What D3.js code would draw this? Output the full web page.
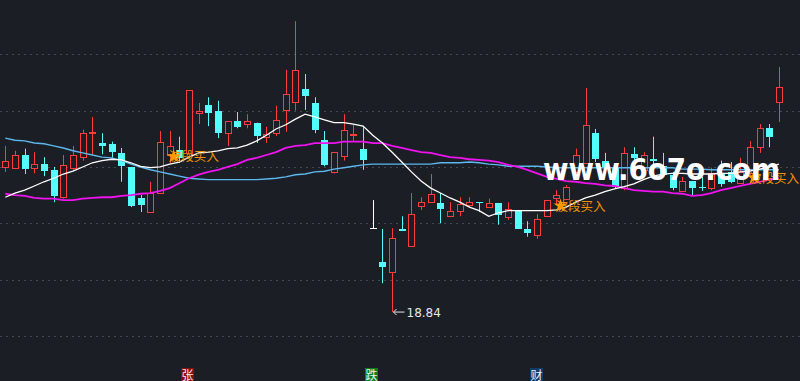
<!DOCTYPE html>
<html>
<head>
<meta charset="utf-8">
<script src="https://cdn.jsdelivr.net/npm/d3@7"></script>
<style>
  body { margin: 0; background: #1b1e25; }
  svg { display: block; }
</style>
</head>
<body>
<svg></svg>
<script>
// daily candles, left to right
const opens = [20.90,20.89,21.07,20.89,20.94,20.86,20.47,20.89,21.04,21.38,
  21.24,21.23,21.10,20.90,20.46,20.26,20.53,21.07,21.14,21.10,
  21.67,21.78,21.70,21.38,21.55,21.51,21.53,21.33,21.38,21.71,
  21.82,22.01,21.81,21.28,20.83,21.06,21.35,21.16,20.03,19.55,
  19.41,20.02,19.78,20.35,20.40,20.39,20.20,20.28,20.36,20.40,
  20.33,20.39,20.19,20.28,20.02,19.93,20.20,20.46,20.45,20.83,
  20.96,21.38,20.99,20.89,20.60,21.08,20.86,21.01,20.91,20.79,
  20.56,20.70,20.62,20.60,20.81,20.83,20.67,20.81,21.18,21.45,
  21.82];
const highs = [21.20,21.13,21.16,21.11,21.04,20.90,21.07,21.20,21.43,21.61,
  21.38,21.26,21.17,20.90,20.50,20.69,21.41,21.41,21.33,21.99,
  21.81,21.89,21.84,21.55,21.68,21.65,21.53,21.47,21.77,22.28,
  22.97,22.22,21.89,21.41,21.11,21.65,21.50,21.47,20.43,20.02,
  20.03,20.20,20.53,20.47,20.80,20.53,20.40,20.47,20.47,20.40,
  20.45,20.39,20.40,20.28,20.13,20.23,20.43,20.57,20.64,21.16,
  22.02,21.44,21.10,20.94,21.18,21.18,21.11,21.33,21.10,20.83,
  20.76,20.70,20.76,20.89,20.99,20.97,21.03,21.27,21.51,21.51,
  22.32];
const lows = [20.83,20.89,20.80,20.81,20.77,20.40,20.45,20.86,20.99,21.07,
  21.08,21.03,20.69,20.33,20.26,20.25,20.53,20.96,20.96,21.04,
  21.51,21.48,21.31,21.20,21.45,21.45,21.24,21.24,21.34,21.40,
  21.70,21.71,21.38,20.91,20.81,20.99,21.27,20.86,20.03,19.25,
  18.84,19.99,19.78,20.29,20.40,20.10,20.20,20.20,20.33,20.26,
  20.32,20.08,20.15,20.02,19.91,19.88,20.19,20.37,20.45,20.83,
  20.96,20.97,20.86,20.60,20.57,21.00,20.83,20.93,20.76,20.57,
  20.55,20.49,20.56,20.57,20.62,20.67,20.66,20.79,21.10,21.18,
  21.54];
const closes = [20.99,21.07,20.87,20.94,20.84,20.49,20.93,21.07,21.38,21.40,
  21.20,21.11,20.91,20.35,20.36,20.53,21.26,21.20,21.03,21.99,
  21.70,21.67,21.38,21.55,21.47,21.55,21.34,21.37,21.57,21.94,
  22.28,21.91,21.43,20.93,21.11,21.43,21.37,21.00,20.03,19.48,
  19.89,19.99,20.23,20.40,20.52,20.30,20.28,20.37,20.40,20.39,
  20.39,20.22,20.30,20.02,19.96,20.16,20.43,20.50,20.62,21.07,
  21.50,21.01,20.89,20.62,21.10,21.03,21.07,20.99,20.79,20.60,
  20.70,20.60,20.60,20.81,20.66,20.69,20.83,21.18,21.45,21.33,
  22.04];

// moving average lines (white, magenta, blue)
const maWhite = [20.47,20.53,20.57,20.63,20.69,20.74,20.80,20.84,20.90,20.96,
  20.99,21.01,21.00,20.96,20.91,20.89,20.90,20.94,20.97,21.04,
  21.10,21.11,21.13,21.16,21.17,21.21,21.27,21.35,21.44,21.50,
  21.58,21.65,21.61,21.57,21.53,21.53,21.51,21.48,21.35,21.24,
  21.11,20.97,20.83,20.70,20.60,20.53,20.46,20.40,20.33,20.28,
  20.20,20.25,20.28,20.28,20.28,20.28,20.28,20.29,20.33,20.40,
  20.46,20.50,20.55,20.59,20.62,20.66,20.72,20.77,20.80,20.81,
  20.81,20.80,20.80,20.80,20.81,20.81,20.83,20.84,20.87,20.90,
  20.94];
const maPink = [20.52,20.50,20.49,20.46,20.45,20.45,20.43,20.43,20.45,20.46,
  20.47,20.47,20.49,20.50,20.52,20.53,20.56,20.60,20.67,20.74,
  20.79,20.83,20.86,20.90,20.94,21.00,21.03,21.07,21.11,21.17,
  21.20,21.21,21.24,21.24,21.24,21.26,21.26,21.26,21.24,21.24,
  21.20,21.17,21.14,21.11,21.10,21.07,21.04,21.03,21.01,21.00,
  20.99,20.97,20.93,20.90,20.86,20.81,20.76,20.73,20.70,20.69,
  20.67,20.66,20.64,20.63,20.60,20.57,20.56,20.55,20.55,20.53,
  20.52,20.49,20.50,20.53,20.57,20.60,20.63,20.66,20.69,20.72,
  20.74];
const maBlue = [21.31,21.28,21.27,21.24,21.23,21.20,21.17,21.13,21.10,21.07,
  21.04,21.03,20.99,20.94,20.90,20.86,20.83,20.80,20.77,20.74,
  20.73,20.72,20.72,20.72,20.72,20.72,20.72,20.73,20.74,20.76,
  20.79,20.80,20.83,20.84,20.87,20.89,20.91,20.93,20.94,20.94,
  20.94,20.94,20.94,20.94,20.94,20.96,20.96,20.96,20.97,20.96,
  20.94,20.93,20.91,20.91,20.91,20.91,20.90,20.89,20.89,20.89,
  20.89,20.89,20.89,20.89,20.89,20.89,20.89,20.89,20.89,20.89,
  20.87,20.87,20.87,20.86,20.86,20.86,20.86,20.86,20.86,20.86,
  20.86];

const gridPrices = [18.5, 19.3, 20.1, 20.9, 21.7, 22.5];

// "波段买入" signals: candle index and price level of the tag
const signalIdx = [17, 57, 77];
const signalPrice = [21.05, 20.35, 20.75];
const signalText = "波段买入";

const tagTexts = ["张", "跌", "财"];
const tagColors = ["#8e0b0b", "#0b7d12", "#0d3b6b"];

const width = 800, height = 381;
const bg = "#1b1e25";
const upColor = "#ff3b3b", downColor = "#54fcfc";

const svg = d3.select("svg").attr("width", width).attr("height", height);
svg.append("rect").attr("width", width).attr("height", height).attr("fill", bg);

const n = opens.length;
const x = d3.scaleLinear().domain([0, n - 1]).range([5.3, 778.9]);
const y = d3.scaleLinear().domain([18.5, 22.5]).range([336, 54.3]);

// dotted grid
svg.append("g").selectAll("line")
  .data(gridPrices)
  .join("line")
  .attr("x1", 0).attr("x2", width)
  .attr("y1", d => Math.round(y(d)) + 0.5)
  .attr("y2", d => Math.round(y(d)) + 0.5)
  .attr("stroke", "#434853")
  .attr("stroke-width", 1)
  .attr("stroke-dasharray", "2,4");

const candles = d3.range(n).map(i => ({
  i, o: opens[i], h: highs[i], l: lows[i], c: closes[i]
}));

const colorOf = d => d.c > d.o ? upColor : d.c < d.o ? downColor : "#ffffff";
const left = d => Math.round(x(d.i) - 3);

const cg = svg.append("g");

// wicks
cg.selectAll("line.wick")
  .data(candles)
  .join("line")
  .attr("class", "wick")
  .attr("x1", d => left(d) + 3.5).attr("x2", d => left(d) + 3.5)
  .attr("y1", d => y(d.h)).attr("y2", d => y(d.l))
  .attr("stroke", colorOf)
  .attr("stroke-width", 1);

// up candles: hollow red
cg.selectAll("rect.up")
  .data(candles.filter(d => d.c > d.o))
  .join("rect")
  .attr("class", "up")
  .attr("x", d => left(d) + 0.5)
  .attr("y", d => Math.round(y(d.c)) + 0.5)
  .attr("width", 6)
  .attr("height", d => Math.max(1, Math.round(y(d.o)) - Math.round(y(d.c))))
  .attr("fill", bg)
  .attr("stroke", upColor)
  .attr("stroke-width", 1);

// down candles: filled cyan
cg.selectAll("rect.down")
  .data(candles.filter(d => d.c < d.o))
  .join("rect")
  .attr("class", "down")
  .attr("x", d => left(d))
  .attr("y", d => Math.round(y(d.o)))
  .attr("width", 7)
  .attr("height", d => Math.max(1, Math.round(y(d.c)) - Math.round(y(d.o))))
  .attr("fill", downColor);

// flat candles
cg.selectAll("line.flat")
  .data(candles.filter(d => d.c === d.o))
  .join("line")
  .attr("class", "flat")
  .attr("x1", d => left(d)).attr("x2", d => left(d) + 7)
  .attr("y1", d => Math.round(y(d.c)) + 0.5).attr("y2", d => Math.round(y(d.c)) + 0.5)
  .attr("stroke", "#ffffff");

// moving averages
const line = d3.line().x((d, i) => x(i)).y(d => y(d));
[[maBlue, "#5cb8ee", 1.4], [maPink, "#f012f0", 1.8], [maWhite, "#ffffff", 1.3]]
  .forEach(([vals, col, w]) => {
    svg.append("path")
      .datum(vals)
      .attr("fill", "none")
      .attr("stroke", col)
      .attr("stroke-width", w)
      .attr("d", line);
  });

// lowest price marker
const lowIdx = d3.minIndex(lows);
const lx = left(candles[lowIdx]) + 3.5, ly = y(lows[lowIdx]);
const mk = svg.append("g").attr("stroke", "#e6e6e6").attr("stroke-width", 1).attr("fill", "none");
mk.append("line").attr("x1", lx + 1).attr("x2", lx + 12).attr("y1", ly).attr("y2", ly);
mk.append("path").attr("d", `M${lx + 4},${ly - 3}L${lx + 1},${ly}L${lx + 4},${ly + 3}`);
svg.append("text")
  .attr("x", lx + 14).attr("y", ly + 4.5)
  .attr("fill", "#e6e6e6")
  .attr("font-family", "'DejaVu Sans', sans-serif")
  .attr("font-size", 12)
  .text(d3.format(".2f")(lows[lowIdx]));

// signal tags
const star = d3.symbol().type(d3.symbolStar).size(60);
signalIdx.forEach((idx, k) => {
  const sx = x(idx) - 1, sy = y(signalPrice[k]);
  svg.append("text")
    .attr("x", sx).attr("y", sy + 5)
    .attr("fill", "#ee9000")
    .attr("font-family", "'Noto Sans CJK SC', sans-serif")
    .attr("font-size", 12.5)
    .text(signalText);
  svg.append("path")
    .attr("d", star)
    .attr("transform", `translate(${sx + 5},${sy})`)
    .attr("fill", "#ff9a00");
});

// watermark
svg.append("text")
  .attr("x", 543).attr("y", 180)
  .attr("fill", "#ffffff")
  .attr("font-family", "'DejaVu Sans', sans-serif")
  .attr("font-weight", "bold")
  .attr("font-size", 30)
  .attr("textLength", 237)
  .attr("lengthAdjust", "spacingAndGlyphs")
  .text("www.6o7o.com");

// bottom tags
const tagX = [181, 365, 530];
tagTexts.forEach((t, k) => {
  svg.append("rect")
    .attr("x", tagX[k]).attr("y", 368)
    .attr("width", 13).attr("height", 14)
    .attr("fill", tagColors[k]);
  svg.append("text")
    .attr("x", tagX[k] + 6.5).attr("y", 380)
    .attr("text-anchor", "middle")
    .attr("fill", "#f2f2f2")
    .attr("font-family", "'Noto Sans CJK SC', sans-serif")
    .attr("font-size", 12)
    .text(t);
});
</script>
</body>
</html>
